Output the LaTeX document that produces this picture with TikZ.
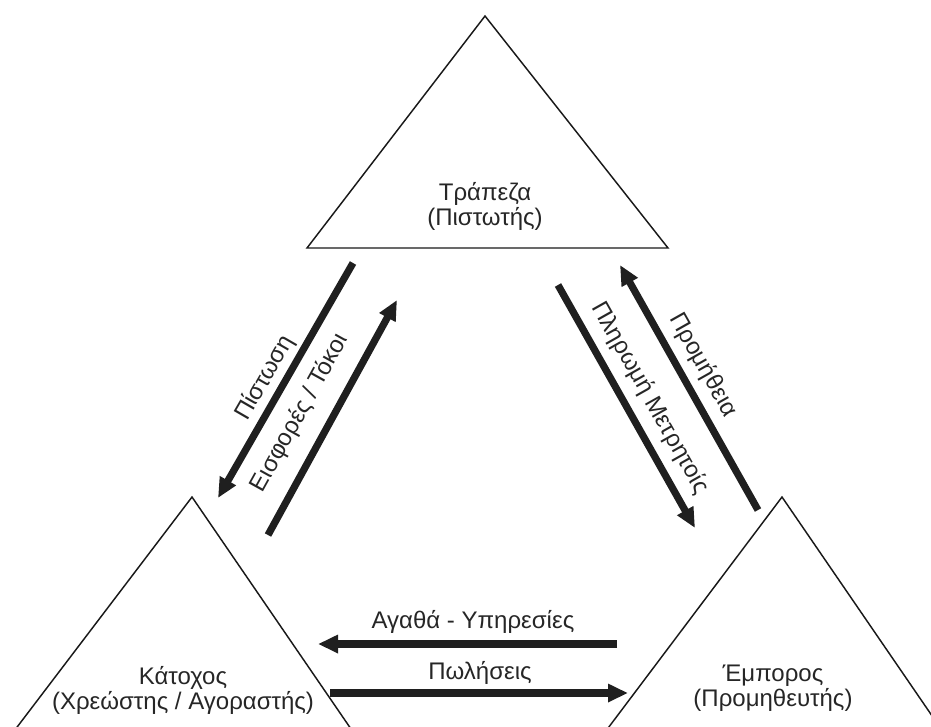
\documentclass[tikz,border=0pt]{standalone}
\usepackage{fontspec}
\setmainfont{Liberation Sans}
\usetikzlibrary{arrows.meta}
\begin{document}
\begin{tikzpicture}[x=0.75pt,y=-0.75pt,
  tri/.style={draw=black!90, line width=1.1pt, line join=miter},
  lbl/.style={font=\fontsize{18}{18.75}\selectfont, text=black!85, inner sep=0pt, align=center},
  flow/.style={draw=black!88, line width=5.4pt, -{Triangle[length=15pt,width=13pt]}}]
\useasboundingbox (0,0) rectangle (931,726);
\clip (0,0) rectangle (931,726);
% triangles
\draw[tri] (485,16) -- (668,248) -- (307,248) -- cycle;
\draw[tri] (192,497) -- (375,764) -- (-11,764) -- cycle;
\draw[tri] (782,497) -- (963,761) -- (581,764) -- cycle;
% party labels
\node[lbl] (bank) at (485,206) {Τράπεζα\\(Πιστωτής)};
\node[lbl] (owner) at (183,690) {Κάτοχος\\(Χρεώστης / Αγοραστής)};
\node[lbl] (merchant) at (773,688) {Έμπορος\\(Προμηθευτής)};
% arrow end points
\coordinate (a1s) at (353,263); \coordinate (a1e) at (218,498);
\coordinate (a2s) at (268,535); \coordinate (a2e) at (397,300);
\coordinate (a3s) at (558,285); \coordinate (a3e) at (695,528);
\coordinate (a4s) at (758,510); \coordinate (a4e) at (620,265);
\coordinate (a5s) at (617,644); \coordinate (a5e) at (318,644);
\coordinate (a6s) at (330,693); \coordinate (a6e) at (628,693);
\draw[flow] (a1s) -- (a1e);
\draw[flow] (a2s) -- (a2e);
\draw[flow] (a3s) -- (a3e);
\draw[flow] (a4s) -- (a4e);
\draw[flow] (a5s) -- (a5e);
\draw[flow] (a6s) -- (a6e);
% flow labels
\node[lbl, rotate=60] (l1) at (265,378) {Πίστωση};
\node[lbl, rotate=61] (l2) at (300,413) {Εισφορές / Τόκοι};
\node[lbl, rotate=-60.6] (l3) at (650,398) {Πληρωμή Μετρητοίς};
\node[lbl, rotate=-60.6] (l4) at (703,365) {Προμήθεια};
\node[lbl] (l5) at (473,622) {Αγαθά - Υπηρεσίες};
\node[lbl] (l6) at (480,673) {Πωλήσεις};
\end{tikzpicture}
\end{document}
